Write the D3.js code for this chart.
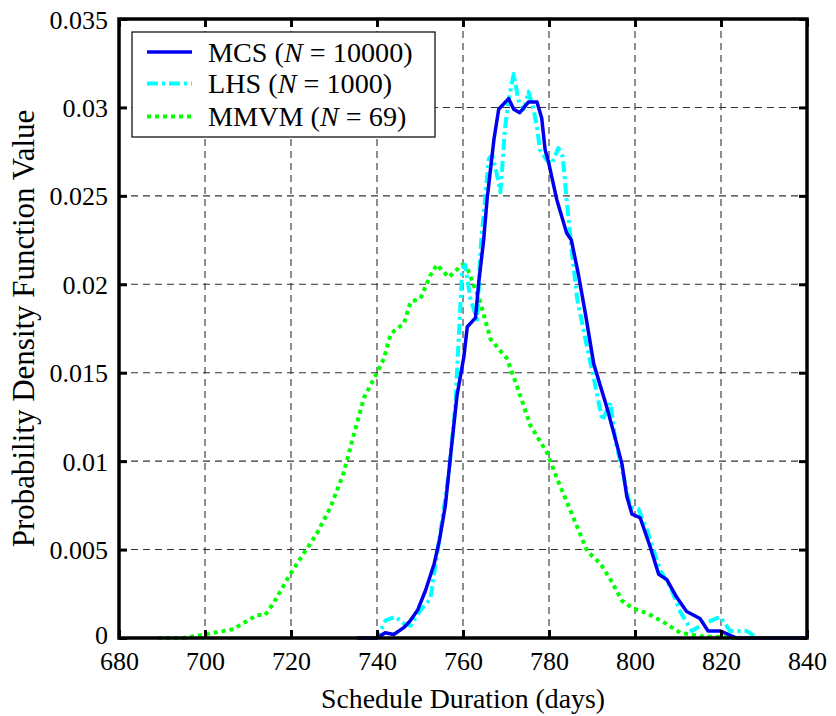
<!DOCTYPE html>
<html><head><meta charset="utf-8">
<script src="https://cdn.jsdelivr.net/npm/d3@7"></script>
<style>body{margin:0;background:#fff}svg{display:block}
text{font-family:"Liberation Serif","Times New Roman",Times,"DejaVu Serif",serif;}
</style>
</head><body>
<svg id="c" width="836" height="716"></svg>
<script>
const xTicks = [680,700,720,740,760,780,800,820,840];
const yTicks = [0,0.005,0.01,0.015,0.02,0.025,0.03,0.035];
const yTickLabels = ["0","0.005","0.01","0.015","0.02","0.025","0.03","0.035"];
const seriesNames = ["MCS", "LHS", "MMVM"];
const seriesN = ["10000", "1000", "69"];

const mcsX = [735.3,740,741.9,743.9,746.3,747.8,749.5,751.3,753.3,754.5,755.9,757.1,758.6,760.2,761,762.9,763.7,764.8,765.6,767.2,768.3,770.6,771.8,773.2,775.2,777.2,778.3,779.1,779.8,781.8,784.1,785.2,786.8,788.5,790.4,793.5,795.4,797,798.1,799.3,801.2,803.6,805.5,807.4,809.7,812,815.1,817,819.8,823.6,840];
const mcsY = [0,0,0.0003,0.0002,0.0006,0.001,0.0016,0.0027,0.0042,0.0055,0.0075,0.0103,0.0137,0.0159,0.0176,0.0181,0.0202,0.0225,0.0248,0.0282,0.0299,0.0305,0.0299,0.0297,0.0303,0.0303,0.0294,0.0276,0.027,0.0248,0.0229,0.0225,0.0206,0.0183,0.0155,0.013,0.0113,0.0098,0.008,0.007,0.0068,0.0051,0.0036,0.0033,0.0023,0.0015,0.0011,0.0004,0.0004,0,0];

const lhsX = [738.9,740,742,744.3,746.3,747.8,750.2,752.4,754.7,756.7,758.2,759,759.8,760.5,761.7,763.3,764.1,766,766.8,767.9,768.7,769.8,770.6,771.8,772.9,774.1,775.2,776.4,777.2,777.9,779.5,780.6,782.2,783.2,784.1,785.2,786.6,788.9,790.4,792.4,794.3,795.4,797.4,798.9,800.8,802.8,805.9,808.2,810.5,813.2,815.9,819.8,822.1,826,828.3];
const lhsY = [0,0,0.001,0.0012,0.0008,0.0007,0.0016,0.0022,0.0059,0.0093,0.0131,0.0169,0.0208,0.0211,0.0192,0.018,0.0221,0.0271,0.0273,0.0262,0.0252,0.0289,0.0304,0.0319,0.0304,0.0299,0.0309,0.0299,0.0289,0.0276,0.027,0.0268,0.0277,0.0272,0.0248,0.0221,0.0191,0.0164,0.0147,0.0123,0.0133,0.0112,0.0091,0.0074,0.0073,0.0061,0.0038,0.0029,0.0015,0.0004,0.0008,0.0012,0.0004,0.0004,0];

const mmvmX = [689.1,694.9,700,706.6,712.1,714,716,719.8,723,726,729.2,732.2,733.5,735.4,737,740,741.6,743.2,746.3,747.8,750.1,752.4,753.9,756.7,759.8,761,764,766.4,770.2,772.6,775.7,779.5,781.9,785,788.9,792,794.3,797,799.3,802.8,806.6,810.5,815.1,824.4];
const mmvmY = [0,0,0.0002,0.0005,0.0013,0.0013,0.002,0.0036,0.0048,0.0059,0.0074,0.0093,0.0105,0.0122,0.0136,0.015,0.0158,0.0172,0.0178,0.019,0.0192,0.0205,0.0211,0.0204,0.0211,0.0209,0.019,0.0169,0.0158,0.0142,0.012,0.0105,0.009,0.0072,0.0049,0.0042,0.0033,0.0021,0.0017,0.0014,0.0009,0.0003,0.0001,0];

const L = 119, R = 807, T = 19, B = 638;
const svg = d3.select("#c");
const x = d3.scaleLinear().domain([680,840]).range([L,R]);
const y = d3.scaleLinear().domain([0,0.035]).range([B,T]);
const font = '"Liberation Serif","Times New Roman",Times,"DejaVu Serif",serif';

// grid
const g = svg.append("g");
g.selectAll("line.vg").data(xTicks.slice(1,-1)).join("line")
  .attr("x1",d=>x(d)).attr("x2",d=>x(d)).attr("y1",T).attr("y2",B)
  .attr("stroke","#333").attr("stroke-width",1.1).attr("stroke-dasharray","7,5");
g.selectAll("line.hg").data(yTicks.slice(1,-1)).join("line")
  .attr("y1",d=>y(d)).attr("y2",d=>y(d)).attr("x1",L).attr("x2",R)
  .attr("stroke","#333").attr("stroke-width",1.1).attr("stroke-dasharray","7,5");

// curves
const mk = (xs,ys)=>xs.map((v,i)=>[v,ys[i]]);
const line = d3.line().x(d=>x(d[0])).y(d=>y(d[1]));
const series = [
  {data: mk(mcsX,mcsY), color:"#0000f0", dash:null, w:3.5},
  {data: mk(lhsX,lhsY), color:"#00ffff", dash:"11,4,3,4", w:4},
  {data: mk(mmvmX,mmvmY), color:"#00ff00", dash:"4,4", w:4}
];
const order = [2,1,0];
order.forEach(i=>{
  const s = series[i];
  svg.append("path").attr("d",line(s.data)).attr("fill","none")
    .attr("stroke",s.color).attr("stroke-width",s.w)
    .attr("stroke-dasharray",s.dash).attr("stroke-linejoin","round");
});

// axes frame
const ax = svg.append("g");
const xAxB = d3.axisBottom(x).tickValues(xTicks).tickSize(-8).tickFormat(d3.format("d"));
const xAxT = d3.axisTop(x).tickValues(xTicks).tickSize(-8).tickFormat("");
const yAxL = d3.axisLeft(y).tickValues(yTicks).tickSize(-8).tickFormat((d,i)=>yTickLabels[i]);
const yAxR = d3.axisRight(y).tickValues(yTicks).tickSize(-8).tickFormat("");
function style(sel){
  sel.attr("font-family",null).attr("font-size",null);
  sel.select(".domain").remove();
  sel.selectAll(".tick line").attr("stroke","#000").attr("stroke-width",3);
  sel.selectAll(".tick text").attr("fill","#000").style("font-family",font).style("font-size","26px");
}
ax.append("g").attr("transform",`translate(0,${B})`).call(xAxB).call(style)
  .selectAll(".tick text").attr("dy",null).attr("y",32);
ax.append("g").attr("transform",`translate(0,${T})`).call(xAxT).call(style);
ax.append("g").attr("transform",`translate(${L},0)`).call(yAxL).call(style)
  .selectAll(".tick text").attr("x",-11).attr("dy",(d,i)=>i===0?"0.2em":"0.35em");
ax.append("g").attr("transform",`translate(${R},0)`).call(yAxR).call(style);
svg.append("rect").attr("x",L).attr("y",T).attr("width",R-L).attr("height",B-T)
  .attr("fill","none").attr("stroke","#000").attr("stroke-width",3.5);

// axis labels
svg.append("text").attr("x",(L+R)/2).attr("y",708).attr("text-anchor","middle")
  .style("font-family",font).style("font-size","27.8px").text("Schedule Duration (days)");
svg.append("text").attr("transform",`translate(34,${(T+B)/2}) rotate(-90)`).attr("text-anchor","middle")
  .style("font-family",font).style("font-size","31px").text("Probability Density Function Value");

// legend
const lg = svg.append("g");
lg.append("rect").attr("x",132).attr("y",32).attr("width",303).attr("height",105)
  .attr("fill","#fff").attr("stroke","#000").attr("stroke-width",1.2);
const rowsY = [52, 83.5, 116.5];
seriesNames.forEach((nm,i)=>{
  const s = series[i];
  lg.append("line").attr("x1",147).attr("x2",192).attr("y1",rowsY[i]).attr("y2",rowsY[i])
    .attr("stroke",s.color).attr("stroke-width",s.w).attr("stroke-dasharray",s.dash);
  const t = lg.append("text").attr("x",208).attr("y",rowsY[i]).attr("dy","0.35em")
    .style("font-family",font).style("font-size","28.2px");
  t.append("tspan").text(nm+" (");
  t.append("tspan").style("font-style","italic").text("N");
  t.append("tspan").text(" = "+seriesN[i]+")");
});
</script>
</body></html>
